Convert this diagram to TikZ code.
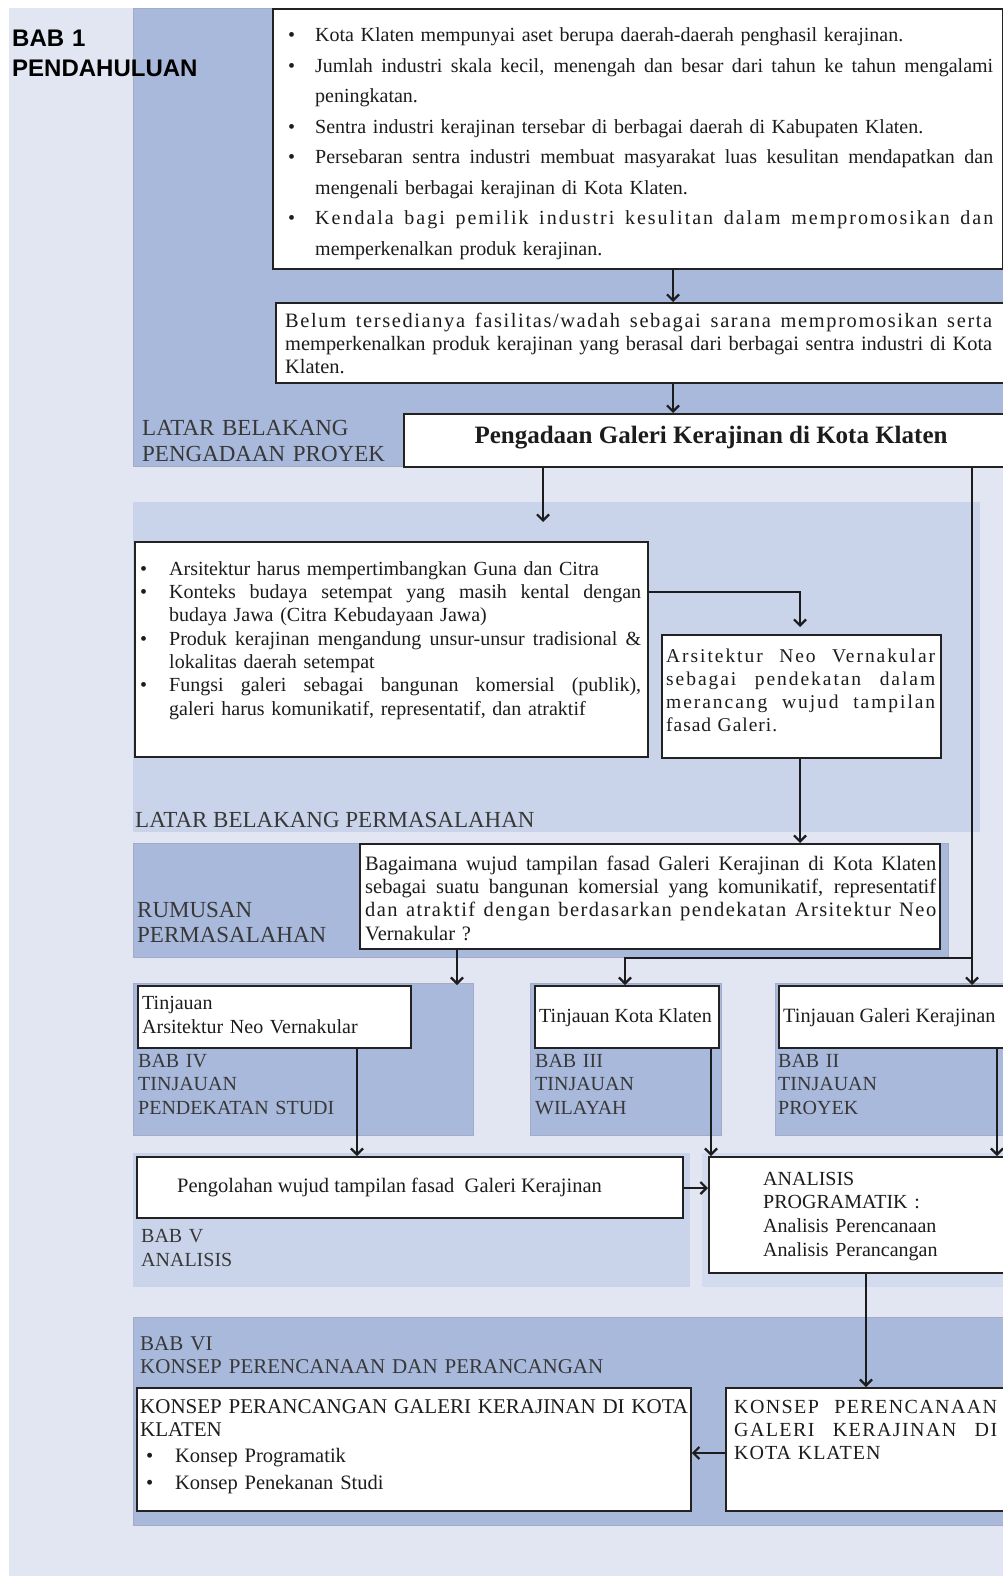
\documentclass[tikz,border=0pt]{standalone}
\usepackage{fontspec}
\setmainfont{Liberation Serif}
\newfontfamily\headfont{Liberation Sans}
\newfontfamily\spacedfont[LetterSpace=5]{Liberation Serif}
\newfontfamily\lsseven[LetterSpace=7]{Liberation Serif}
\newfontfamily\lseight[LetterSpace=8]{Liberation Serif}
\newfontfamily\lsten[LetterSpace=10]{Liberation Serif}
\usetikzlibrary{arrows.meta}
\newcommand\setfs[2]{\fontsize{#1}{#2}\selectfont}
\newcommand\jl[2]{\leavevmode\hbox to #1{\spaceskip=0.25em plus 1fil minus 0.1em\relax\xspaceskip=\spaceskip #2}}
\newcommand\bul[1]{\leavevmode\llap{\makebox[#1][l]{\textbullet}}}
\newcommand\fst{\leavevmode\rule{0pt}{20pt}}
\definecolor{pagebg}{HTML}{E1E6F2}
\definecolor{darkp}{HTML}{A9B9DC}
\definecolor{midp}{HTML}{C9D4EA}
\definecolor{lightp}{HTML}{D3DBEE}
\definecolor{panelline}{HTML}{A3ACC4}
\definecolor{boxline}{HTML}{222222}
\definecolor{ink}{HTML}{1C1C1C}
\definecolor{labc}{HTML}{383838}
\tikzset{
  box/.style={draw=boxline, line width=1.8pt, fill=white, anchor=north west, inner sep=0pt},
  txt/.style={anchor=north west, inner sep=0pt, align=left, text=ink},
  lab/.style={anchor=north west, inner sep=0pt, align=left, text=labc},
  one/.style={anchor=base west, inner sep=0pt, text=ink},
  onelab/.style={anchor=base west, inner sep=0pt, text=labc},
  arr/.style={-{Straight Barb[length=6pt,width=12pt]}, line width=2.2pt, draw=ink},
  panel/.style={draw=panelline, line width=0.6pt}
}
\begin{document}
\begin{tikzpicture}[x=1pt,y=-1pt]
\useasboundingbox (0,0) rectangle (1003,1576);
\fill[white] (0,0) rectangle (1003,1576);
\fill[pagebg] (9,8) rectangle (1003,1576);
% panels
\filldraw[panel, fill=darkp] (133,8) rectangle (1010,466);
\fill[midp] (133,502) rectangle (980,832);
\filldraw[panel, fill=darkp] (133,843) rectangle (948,957);
\filldraw[panel, fill=darkp] (133,983) rectangle (473,1135);
\filldraw[panel, fill=darkp] (530,983) rectangle (721,1135);
\filldraw[panel, fill=darkp] (775,983) rectangle (1010,1135);
\fill[midp] (133,1153) rectangle (690,1287);
\fill[lightp] (702,1153) rectangle (1010,1287);
\filldraw[panel, fill=darkp] (133,1317) rectangle (1010,1525);

% boxes
\node[box, minimum width=730pt, minimum height=260pt] (b1) at (272,8) {};
\node[box, minimum width=735pt, minimum height=80pt] (b2) at (275,302) {};
\node[box, minimum width=607pt, minimum height=53pt] (b3) at (403,413) {};
\node[box, minimum width=513pt, minimum height=215pt] (b4) at (134,541) {};
\node[box, minimum width=279pt, minimum height=123pt] (b5) at (661,634) {};
\node[box, minimum width=580pt, minimum height=105pt] (bq) at (359,843) {};
\node[box, minimum width=273pt, minimum height=62pt] (ta) at (137,985) {};
\node[box, minimum width=184pt, minimum height=62pt] (tk) at (534,985) {};
\node[box, minimum width=232pt, minimum height=62pt] (tg) at (778,985) {};
\node[box, minimum width=546pt, minimum height=61pt] (pg) at (136,1156) {};
\node[box, minimum width=302pt, minimum height=116pt] (an) at (708,1156) {};
\node[box, minimum width=554pt, minimum height=123pt] (kl) at (136,1387) {};
\node[box, minimum width=285pt, minimum height=123pt] (kr) at (725,1387) {};

% helper coordinates
\coordinate (v1) at (673,0);
\coordinate (c1) at (543,522);
\coordinate (j1) at (972,958);
\coordinate (j2) at (625,958);
\coordinate (c2) at (800,627);
\coordinate (h3) at (0,592);
\coordinate (v2) at (457,0);
\coordinate (v3) at (357,0);
\coordinate (v4) at (711,0);
\coordinate (v5) at (997,0);
\coordinate (h1) at (0,1188);
\coordinate (v6) at (866,0);
\coordinate (h2) at (0,1453);

% connectors
\draw[arr] (b1.south -| v1) -- (b2.north -| v1);
\draw[arr] (b2.south -| v1) -- (b3.north -| v1);
\draw[arr] (b3.south -| c1) -- (c1);
\draw[arr] (b3.south -| j1) -- (tg.north -| j1);
\draw[arr] (j1) -- (j2) -- (tk.north -| j2);
\draw[arr] (b4.east |- h3) -| (c2);
\draw[arr] (b5.south -| c2) -- (bq.north -| c2);
\draw[arr] (bq.south -| v2) -- (ta.north -| v2);
\draw[arr] (ta.south -| v3) -- (pg.north -| v3);
\draw[arr] (tk.south -| v4) -- (an.north -| v4);
\draw[arr] (tg.south -| v5) -- (an.north -| v5);
\draw[arr] (pg.east |- h1) -- (an.west |- h1);
\draw[arr] (an.south -| v6) -- (kr.north -| v6);
\draw[arr] (kr.west |- h2) -- (kl.east |- h2);

% texts
\node[txt, text width=250pt, font=\headfont\bfseries\setfs{24}{30}, text=black] (l0) at (12,26.5) {\fst BAB 1\\PENDAHULUAN};

\node[txt, text width=690pt, font=\setfs{20}{30.5}] (t1) at (315,21.5) {\fst\bul{27pt}Kota Klaten mempunyai aset berupa daerah-daerah penghasil kerajinan.\\
\bul{27pt}\jl{678pt}{Jumlah industri skala kecil, menengah dan besar dari tahun ke tahun mengalami}\\
peningkatan.\\
\bul{27pt}Sentra industri kerajinan tersebar di berbagai daerah di Kabupaten Klaten.\\
\bul{27pt}\jl{678pt}{Persebaran sentra industri membuat masyarakat luas kesulitan mendapatkan dan}\\
mengenali berbagai kerajinan di Kota Klaten.\\
\bul{27pt}\jl{678pt}{\lsten Kendala bagi pemilik industri kesulitan dalam mempromosikan dan}\\
memperkenalkan produk kerajinan.};

\node[txt, text width=712pt, font=\setfs{20.4}{23}] (t2) at (285,307) {\fst\jl{707pt}{\lseight Belum tersedianya fasilitas/wadah sebagai sarana mempromosikan serta}\\
\jl{707pt}{memperkenalkan produk kerajinan yang berasal dari berbagai sentra industri di Kota}\\
Klaten.};

\node[anchor=base, inner sep=0pt, font=\bfseries\setfs{25}{29}, text=ink] (t3) at (711,443) {Pengadaan Galeri Kerajinan di Kota Klaten};

\node[lab, text width=300pt, font=\setfs{23}{26}] (l1) at (142,415) {\fst LATAR BELAKANG\\PENGADAAN PROYEK};

\node[txt, text width=476pt, font=\setfs{20}{23.33}] (t4) at (169,555) {\fst\bul{29pt}Arsitektur harus mempertimbangkan Guna dan Citra\\
\bul{29pt}\jl{472pt}{Konteks budaya setempat yang masih kental dengan}\\
budaya Jawa (Citra Kebudayaan Jawa)\\
\bul{29pt}\jl{472pt}{Produk kerajinan mengandung unsur-unsur tradisional \&}\\
lokalitas daerah setempat\\
\bul{29pt}\jl{472pt}{Fungsi galeri sebagai bangunan komersial (publik),}\\
galeri harus komunikatif, representatif, dan atraktif};

\node[txt, text width=272pt, font=\lsten\setfs{19.5}{23}] (t5) at (666,642) {\fst\jl{269pt}{Arsitektur Neo Vernakular}\\
\jl{269pt}{sebagai pendekatan dalam}\\
\jl{269pt}{merancang wujud tampilan}\\
{\spacedfont fasad Galeri.}};

\node[onelab, font=\setfs{23}{26}] (l2) at (135,827) {LATAR BELAKANG PERMASALAHAN};

\node[lab, text width=220pt, font=\setfs{23}{25}] (l3) at (137,897) {\fst RUMUSAN\\PERMASALAHAN};

\node[txt, text width=575pt, font=\setfs{20.5}{23.3}] (tq) at (365,850) {\fst\jl{571pt}{Bagaimana wujud tampilan fasad Galeri Kerajinan di Kota Klaten}\\
\jl{571pt}{sebagai suatu bangunan komersial yang komunikatif, representatif}\\
\jl{571pt}{\lsseven dan atraktif dengan berdasarkan pendekatan Arsitektur Neo}\\
Vernakular ?};

\node[txt, text width=265pt, font=\setfs{20}{24}] (tta) at (142,989) {\fst Tinjauan\\Arsitektur Neo Vernakular};
\node[lab, text width=300pt, font=\setfs{20}{23.5}] (l4) at (138,1047) {\fst BAB IV\\TINJAUAN\\PENDEKATAN STUDI};

\node[one, font=\setfs{20}{24}] (ttk) at (539,1022) {Tinjauan Kota Klaten};
\node[lab, text width=180pt, font=\setfs{20}{23.5}] (l5) at (535,1047) {\fst BAB III\\TINJAUAN\\WILAYAH};

\node[one, font=\setfs{20.3}{24}] (ttg) at (783,1022) {Tinjauan Galeri Kerajinan};
\node[lab, text width=200pt, font=\setfs{20}{23.5}] (l6) at (778,1047) {\fst BAB II\\TINJAUAN\\PROYEK};

\node[one, font=\setfs{20.5}{24}] (tpg) at (177,1192) {Pengolahan wujud tampilan fasad\ \ Galeri Kerajinan};
\node[lab, text width=200pt, font=\setfs{20}{24}] (l7) at (141,1222) {\fst BAB V\\ANALISIS};

\node[txt, text width=230pt, font=\setfs{20}{23.7}] (tan) at (763,1165) {\fst ANALISIS\\PROGRAMATIK :\\Analisis Perencanaan\\Analisis Perancangan};

\node[lab, text width=600pt, font=\setfs{21}{23}] (l8) at (140,1330) {\fst BAB VI\\KONSEP PERENCANAAN DAN PERANCANGAN};

\node[txt, text width=552pt, font=\setfs{21}{23}] (tkl1) at (140,1393) {\fst\jl{548pt}{KONSEP PERANCANGAN GALERI KERAJINAN DI KOTA}\\KLATEN};
\node[txt, text width=300pt, font=\setfs{20.5}{27}] (tkl2) at (175,1442) {\fst\bul{29pt}Konsep Programatik\\
\bul{29pt}Konsep Penekanan Studi};

\node[txt, text width=266pt, font=\lsseven\setfs{20}{23}] (tkr) at (734,1393) {\fst\jl{263pt}{KONSEP PERENCANAAN}\\
\jl{263pt}{GALERI KERAJINAN DI}\\
{\spacedfont KOTA KLATEN}};
\end{tikzpicture}
\end{document}
